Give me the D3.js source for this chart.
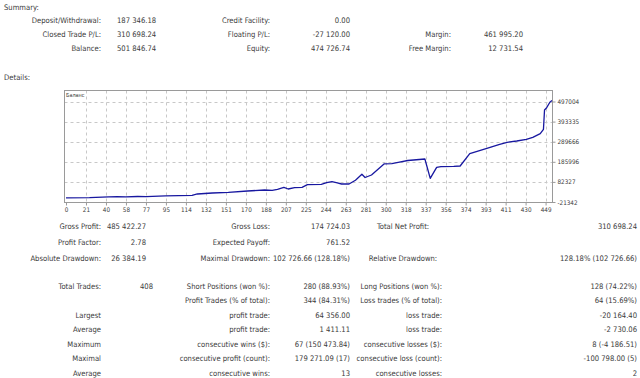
<!DOCTYPE html>
<html><head><meta charset="utf-8">
<script src="https://cdn.jsdelivr.net/npm/d3@7"></script>
<style>
html,body{margin:0;padding:0;background:#fff;}
svg text{font-family:"DejaVu Sans Condensed","Liberation Sans",sans-serif;fill:#3a3a3a;}
</style></head>
<body><svg id="c" width="640" height="378"></svg>
<script>
// ---- data ----
const tradeIndex = [0,22,40,48,56,67,75,93,118,123,137,152,170,186,193,198,204,208,214,221,226,239,244,249,254,258,265,271,277,280,286,298,305,311,320,336,341,347,351,363,369,378,394,406,413,422,431,437,444,447,448,450,453,455];
const balance = [0,1500,5000,6500,5000,7000,6000,10000,13200,20000,25000,28700,35400,40500,39000,44200,54500,45700,52400,54500,67900,70000,78200,83400,76700,71500,71500,90600,121500,105000,117900,175700,176200,183400,192700,200500,100900,157600,160700,162300,164300,227800,255600,276300,286600,293300,302000,312400,330900,353700,453200,465000,493000,501847];
const xTickLabels = ["0","21","40","58","77","95","114","132","151","170","188","207","225","244","263","281","300","318","337","356","374","393","411","430","449"];
const yTickValues = [-21342,82327,185996,289666,393335,497004];
const chartTitle = "Баланс";

const summaryRows = [
  ["Deposit/Withdrawal:","187 346.18","Credit Facility:","0.00","",""],
  ["Closed Trade P/L:","310 698.24","Floating P/L:","-27 120.00","Margin:","461 995.20"],
  ["Balance:","501 846.74","Equity:","474 726.74","Free Margin:","12 731.54"]
];
const detailRows = [
  ["Gross Profit:","485 422.27","Gross Loss:","174 724.03","Total Net Profit:","310 698.24"],
  ["Profit Factor:","2.78","Expected Payoff:","761.52","",""],
  ["Absolute Drawdown:","26 384.19","Maximal Drawdown:","102 726.66 (128.18%)","Relative Drawdown:","128.18% (102 726.66)"]
];
const tradeRows = [
  ["Total Trades:","408","Short Positions (won %):","280 (88.93%)","Long Positions (won %):","128 (74.22%)"],
  ["","","Profit Trades (% of total):","344 (84.31%)","Loss trades (% of total):","64 (15.69%)"],
  ["Largest","","profit trade:","64 356.00","loss trade:","-20 164.40"],
  ["Average","","profit trade:","1 411.11","loss trade:","-2 730.06"],
  ["Maximum","","consecutive wins ($):","67 (150 473.84)","consecutive losses ($):","8 (-4 186.51)"],
  ["Maximal","","consecutive profit (count):","179 271.09 (17)","consecutive loss (count):","-100 798.00 (5)"],
  ["Average","","consecutive wins:","13","consecutive losses:","2"]
];

// ---- drawing ----
const svg = d3.select("#c");
svg.append("rect").attr("width",640).attr("height",378).attr("fill","#fff");
const FS = 7.6;
function txt(x,y,s,anchor,size){
  if(!s) return;
  svg.append("text").attr("x",x).attr("y",y).attr("dy","0.35em")
    .attr("text-anchor",anchor||"start").style("font-size",(size||FS)+"px").text(s);
}
txt(4,7,"Summary:");
txt(4,77,"Details:");

const sumY = [20,34,48];
summaryRows.forEach((r,i)=>{
  txt(101,sumY[i],r[0],"end");
  txt(117,sumY[i],r[1],"start");
  txt(270,sumY[i],r[2],"end");
  txt(350,sumY[i],r[3],"end");
  txt(451,sumY[i],r[4],"end");
  txt(523,sumY[i],r[5],"end");
});
const detY = [226,242,258];
detailRows.forEach((r,i)=>{
  txt(101,detY[i],r[0],"end");
  txt(146,detY[i],r[1],"end");
  txt(270,detY[i],r[2],"end");
  txt(350,detY[i],r[3],"end");
  txt(403,detY[i],r[4],"middle");
  txt(637,detY[i],r[5],"end");
});
const trY = [286,300.5,315,329.5,344,358.5,373];
tradeRows.forEach((r,i)=>{
  txt(101,trY[i],r[0],"end");
  txt(140,trY[i],r[1],"start");
  txt(270,trY[i],r[2],"end");
  txt(350,trY[i],r[3],"end");
  txt(442,trY[i],r[4],"end");
  txt(637,trY[i],r[5],"end");
});

// chart
const L=64.5, R=552.5, T=90.5, B=202.5;
const x = d3.scaleLinear().domain([0,455]).range([66,552]);
const y = d3.scaleLinear().domain([yTickValues[0], yTickValues[yTickValues.length-1]]).range([202,101.5]);
const xMaxLabel = +xTickLabels[xTickLabels.length-1];
const xTickPos = xTickLabels.map((d,i)=> i*xMaxLabel/(xTickLabels.length-1));

const g = svg.append("g");
g.selectAll("line.vg").data(xTickPos.slice(1)).join("line")
  .attr("x1",d=>Math.round(x(d))+0.5).attr("x2",d=>Math.round(x(d))+0.5)
  .attr("y1",T).attr("y2",B).attr("stroke","#c8c8c8").attr("stroke-dasharray","3,3");
g.selectAll("line.hg").data(yTickValues.slice(1)).join("line")
  .attr("x1",L).attr("x2",R)
  .attr("y1",d=>Math.round(y(d))+0.5).attr("y2",d=>Math.round(y(d))+0.5)
  .attr("stroke","#c8c8c8").attr("stroke-dasharray","3,3");
g.append("rect").attr("x",L).attr("y",T).attr("width",R-L).attr("height",B-T)
  .attr("fill","none").attr("stroke","#9a9a9a");
const xAxis = d3.axisBottom(x).tickValues(xTickPos).tickSize(3).tickPadding(2)
  .tickFormat((d,i)=>xTickLabels[i]);
const xa = svg.append("g").attr("transform",`translate(0,${B})`).call(xAxis);
const yAxis = d3.axisRight(y).tickValues(yTickValues).tickSize(3).tickPadding(2)
  .tickFormat(d=>String(d));
const ya = svg.append("g").attr("transform",`translate(${R},0)`).call(yAxis);
[xa,ya].forEach(a=>{
  a.select(".domain").remove();
  a.selectAll(".tick line").attr("stroke","#9a9a9a");
  a.selectAll(".tick text").style("font-size","6.3px").attr("fill","#555")
   .style("font-family","'DejaVu Sans Condensed','Liberation Sans',sans-serif");
});
txt(66,95,chartTitle,"start",5.5);

const pts = tradeIndex.map((d,i)=>[d,balance[i]]);
svg.append("path").datum(pts)
  .attr("d",d3.line().x(d=>x(d[0])).y(d=>y(d[1])))
  .attr("fill","none").attr("stroke","#1818a0").attr("stroke-width",1.3)
  .attr("stroke-linejoin","round");
</script></body></html>
